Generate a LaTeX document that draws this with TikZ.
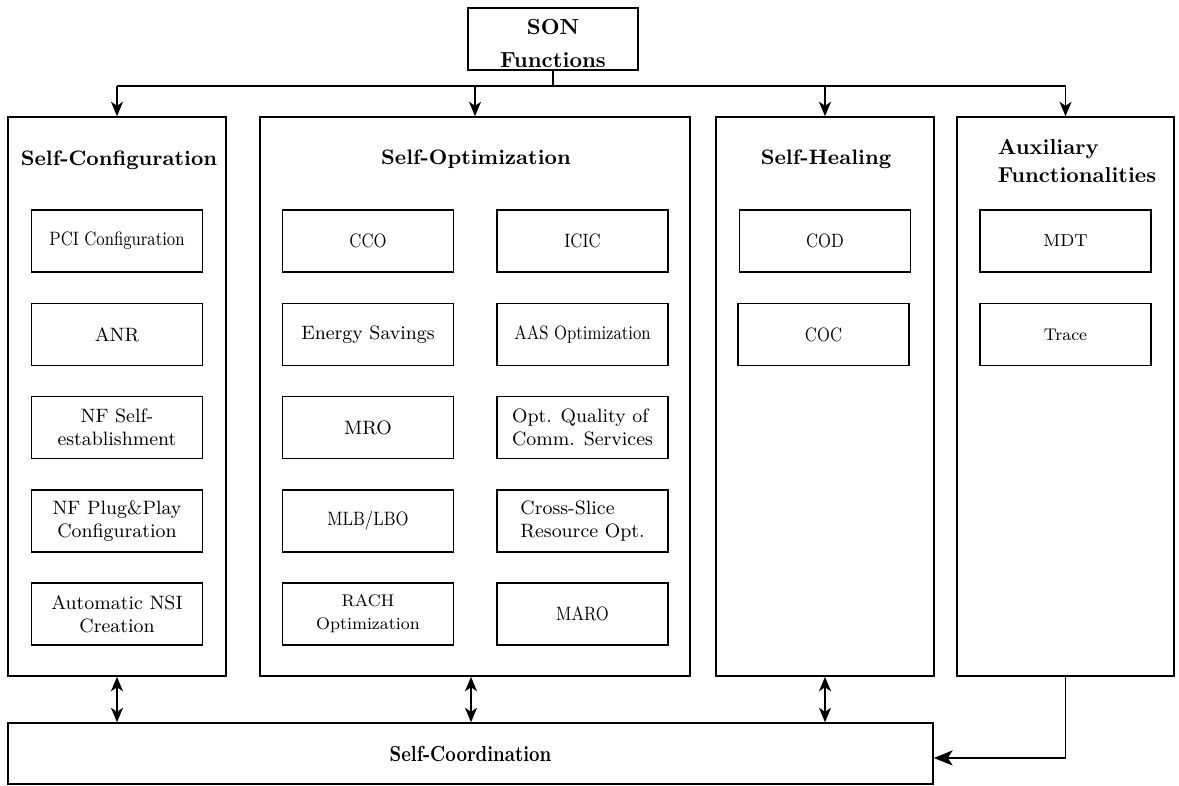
\documentclass[tikz,border=0pt]{standalone}
\usepackage{graphicx}
\usetikzlibrary{arrows.meta}
% narrow set for the tightly spaced labels
\newcommand{\narrow}[1]{\scalebox{0.84}[1]{#1}}
\begin{document}
\begin{tikzpicture}[x=0.45pt,y=-0.45pt,line width=0.7pt,
  panel/.style={draw, rectangle, inner sep=0pt, minimum height=251.55pt, minimum width=#1},
  item/.style={draw, rectangle, inner sep=1pt, minimum width=77pt, minimum height=27.9pt,
    align=center, font=\fontsize{8.7}{10.4}\selectfont},
  small/.style={font=\fontsize{7.6}{10.4}\selectfont},
  title/.style={align=center, inner sep=0pt, font=\fontsize{9.4}{12.2}\selectfont\bfseries},
  tip/.tip={Stealth[length=6.5pt,width=5.4pt,inset=1.8pt]},
  arr/.style={-tip},
  darr/.style={tip-tip},
  bigarr/.style={-{Stealth[length=8.5pt,width=6.8pt,inset=2.2pt]}}
]
\useasboundingbox (0,0) rectangle (1179,785);

% root
\node[draw, rectangle, inner sep=0pt, minimum width=76.5pt, minimum height=27.9pt] (son) at (553,39) {};
\node[align=center, inner sep=0pt, font=\fontsize{9.8}{15}\selectfont\bfseries] (sonT) at (553,43.5) {SON\\Functions};

% function groups
\node[panel=98.1pt]  (conf) at (117,396.5) {};
\node[panel=193.5pt] (opt)  at (475,396.5) {};
\node[panel=98.1pt]  (heal) at (825,396.5) {};
\node[panel=97.65pt] (aux)  at (1065.5,396.5) {};

\node[title] (confT) at (119,160) {Self-Configuration};
\node[title] (optT)  at (476,159) {Self-Optimization};
\node[title] (healT) at (826,159) {Self-Healing};
\node[title, align=left, anchor=west, font=\fontsize{9.7}{12.2}\selectfont\bfseries] (auxT) at (997,161) {Auxiliary\\Functionalities};

% self-configuration
\node[item] (pci)  at (117,241)   {\narrow{PCI Configuration}};
\node[item] (anr)  at (117,334.5) {ANR};
\node[item] (nfse) at (117,427.5) {NF Self-\\establishment};
\node[item] (nfpp) at (117,521)   {NF Plug\&Play\\Configuration};
\node[item] (nsi)  at (117,614)   {Automatic NSI\\Creation};

% self-optimization
\node[item] (cco)  at (368,241)   {\narrow{CCO}};
\node[item] (es)   at (368,334.5) {Energy Savings};
\node[item] (mro)  at (368,427.5) {MRO};
\node[item] (mlb)  at (368,521)   {\narrow{MLB/LBO}};
\node[item, small] (rach) at (368,614) {RACH\\Optimization};
\node[item] (icic) at (582.5,241)   {\narrow{ICIC}};
\node[item] (aas)  at (582.5,334.5) {\narrow{AAS Optimization}};
\node[item, align=left] (oqc) at (582.5,427.5) {Opt. Quality of\\Comm. Services};
\node[item, align=left] (csr) at (582.5,521)   {Cross-Slice\\Resource Opt.};
\node[item] (maro) at (582.5,614)   {\narrow{MARO}};

% self-healing
\node[item] (cod) at (825,241)    {\narrow{COD}};
\node[item] (coc) at (823.5,334.5) {\narrow{COC}};

% auxiliary functionalities
\node[item, font=\fontsize{7.8}{10.4}\selectfont] (mdt)   at (1065.5,241)   {MDT};
\node[item, font=\fontsize{7.6}{10.4}\selectfont] (trace) at (1065.5,334.5) {Trace};

% coordination layer
\node[draw, rectangle, inner sep=0pt, minimum width=416.25pt, minimum height=27.45pt,
  font=\fontsize{9.8}{12.2}\selectfont\bfseries] (coord) at (470.5,753.5) {\narrow{Self-Coordination}};

% distribution bus
\coordinate (bus) at (553,86);
\draw (son.south) -- (bus);
\draw (conf.north |- bus) -- (aux.north |- bus);
\foreach \p in {conf,opt,heal,aux}
  \draw[arr] (\p.north |- bus) -- (\p.north);

% links to coordination
\draw[darr] (conf.south) -- (conf.south |- coord.north);
\draw[darr] ([xshift=-1.8pt]opt.south) -- ([xshift=-1.8pt]opt.south |- coord.north);
\draw[darr] (heal.south) -- (heal.south |- coord.north);
\draw[bigarr] (aux.south) |- ([yshift=-2pt]coord.east);
\end{tikzpicture}
\end{document}
